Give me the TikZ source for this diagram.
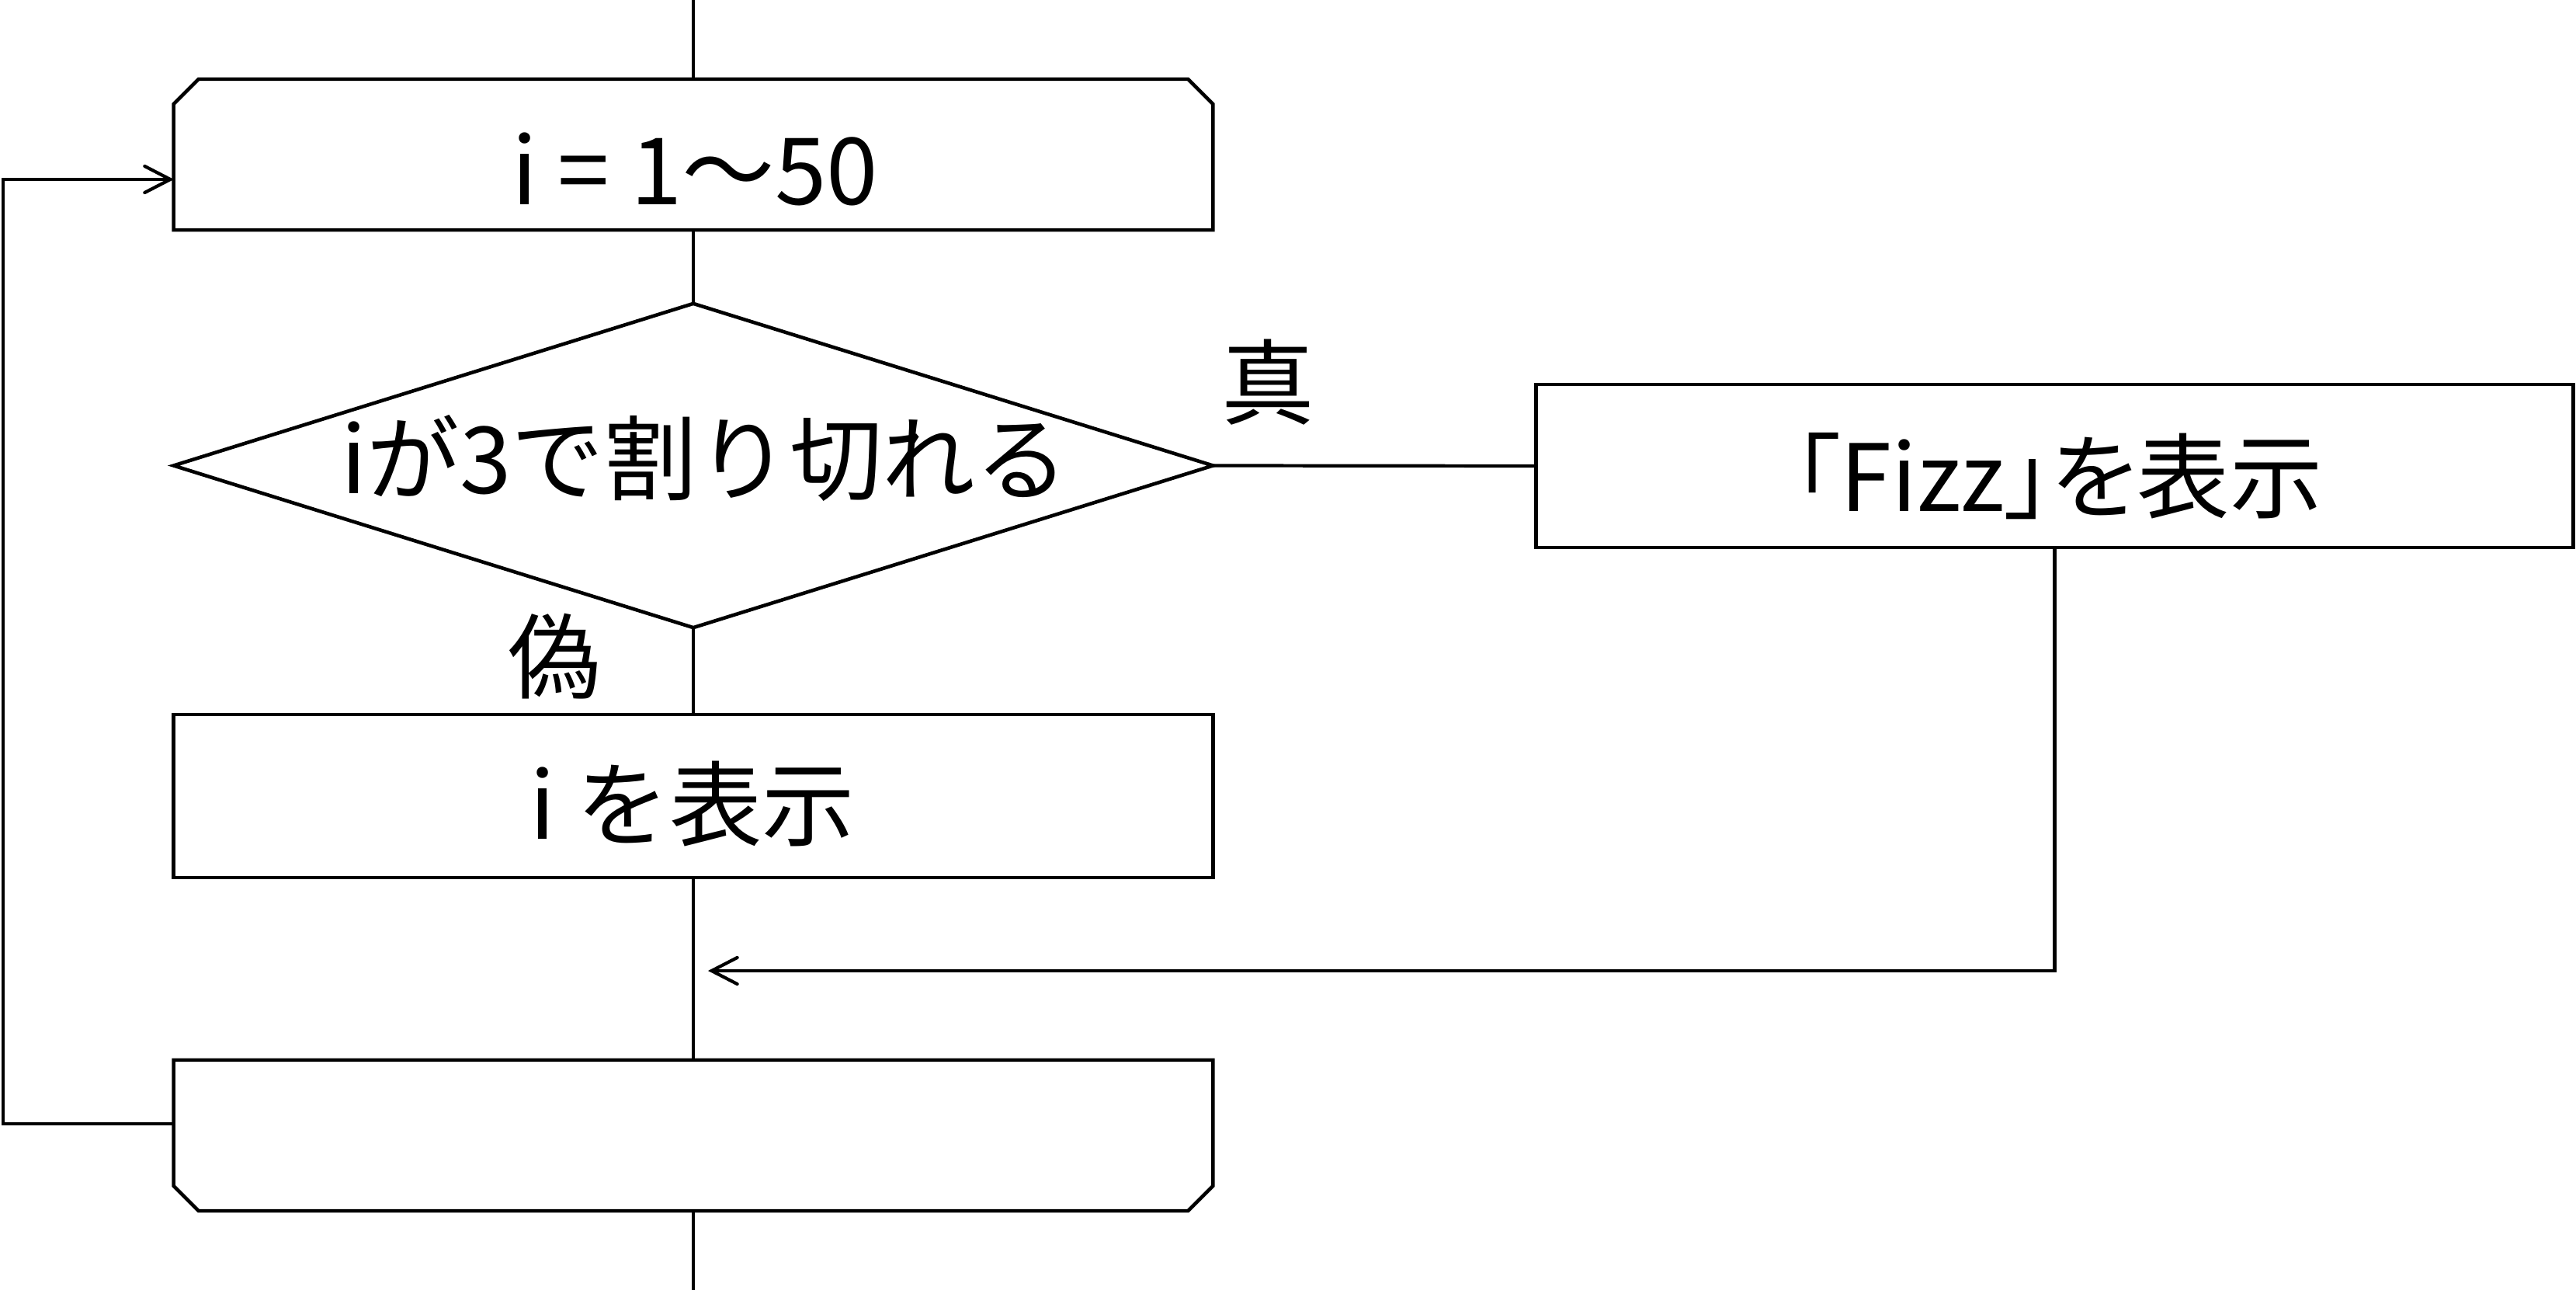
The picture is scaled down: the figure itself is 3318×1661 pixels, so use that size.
\documentclass[tikz,border=0pt]{standalone}
\usepackage{fontspec}
\setmainfont{Noto Sans CJK JP}
\newfontfamily\jpp[RawFeature=+palt]{Noto Sans CJK JP}
\usetikzlibrary{arrows.meta,shapes.geometric}
\begin{document}
\begin{tikzpicture}[x=0.01cm,y=-0.01cm,
  boxline/.style={line width=1.3pt,line join=miter},
  plain/.style={inner sep=0,outer sep=0,minimum width=13.38cm},
  procbox/.style={draw,boxline,inner sep=0,outer sep=0,minimum width=13.38cm,minimum height=2.1cm},
  conn/.style={line width=1.2pt},
  tip/.style={-{Straight Barb[length=0.33cm,width=0.34cm,line cap=round]}},
  txt/.style={font=\fontsize{34}{40}\selectfont,inner sep=0}]
\fill[white] (0,0) rectangle (3318,1661);
\useasboundingbox (0,0) rectangle (3318,1661);

% loop start (top corners cut)
\node[plain,minimum height=1.94cm] (loopstart) at (893,199) {};
\draw[boxline] ([yshift=-0.32cm]loopstart.north west) -- ([xshift=0.32cm]loopstart.north west)
  -- ([xshift=-0.32cm]loopstart.north east) -- ([yshift=-0.32cm]loopstart.north east)
  -- (loopstart.south east) -- (loopstart.south west) -- cycle;
\node[txt] (tloop) at (895,218) {i = 1～50};

% decision
\node[diamond,draw,boxline,inner sep=0,outer sep=0,minimum width=13.38cm,minimum height=4.17cm] (dec) at (893,599.5) {};
\node[txt] (tdec) at (908,590) {iが3で割り切れる};
\node[txt] (ltrue) at (1633,492) {真};
\node[txt] (lfalse) at (714,845) {偽};

% process boxes
\node[procbox] (show) at (893,1025) {};
\node[txt] (tshow) at (892,1035) {i を表示};
\node[procbox,minimum width=13.35cm] (fizz) at (2646.5,600) {};
\node[txt] (tfizz) at (2651,613) {\jpp 「Fizz」を表示};

% loop end (bottom corners cut)
\node[plain,minimum height=1.94cm] (loopend) at (893,1462) {};
\draw[boxline] (loopend.north west) -- (loopend.north east)
  -- ([yshift=0.32cm]loopend.south east) -- ([xshift=-0.32cm]loopend.south east)
  -- ([xshift=0.32cm]loopend.south west) -- ([yshift=0.32cm]loopend.south west) -- cycle;

% connectors
\coordinate (top) at (893,0);
\coordinate (bottom) at (893,1661);
\coordinate (merge) at (912,1250);
\coordinate (backout) at (224,1447);
\coordinate (backin) at (224,231);
\coordinate (backx) at (4,0);
\draw[conn] (top) -- (loopstart.north);
\draw[conn] (loopstart.south) -- (dec.north);
\draw[conn] (dec.south) -- (show.north);
\draw[conn] (show.south) -- (loopend.north);
\draw[conn] (loopend.south) -- (bottom);
\draw[conn] (dec.east) -- (fizz.west);
\draw[conn,tip] (fizz.south) |- (merge);
\draw[conn,tip] (backout) -- (backout -| backx) -- (backin -| backx) -- (backin);
\end{tikzpicture}
\end{document}
